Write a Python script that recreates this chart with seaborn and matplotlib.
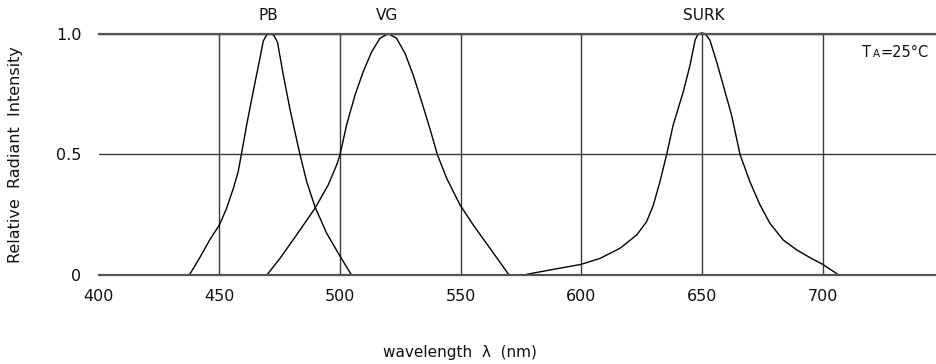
import numpy as np
import pandas as pd
import matplotlib
matplotlib.use("Agg")
import matplotlib.pyplot as plt
import seaborn as sns

# ---- data ----
pb_nm = [437.5, 442.0, 446.1, 450.0, 453.0, 455.8, 457.8, 459.2, 461.3, 464.0,
         466.8, 468.2, 469.6, 471.0, 472.6, 474.1, 476.5, 479.2, 481.3, 483.4,
         486.2, 489.6, 494.4, 499.7, 504.8]
pb_val = [0.0, 0.075, 0.148, 0.208, 0.277, 0.36, 0.429, 0.505, 0.622, 0.76,
          0.898, 0.97, 0.995, 1.0, 0.993, 0.964, 0.829, 0.69, 0.594, 0.5,
          0.387, 0.284, 0.175, 0.084, 0.0]

vg_nm = [469.6, 475.1, 482.0, 489.6, 495.1, 498.6, 500.0, 502.7, 506.2, 509.6,
         513.1, 516.5, 520.0, 523.4, 526.9, 530.3, 533.8, 537.2, 540.3, 544.2,
         549.7, 555.2, 562.1, 570.1]
vg_val = [0.0, 0.07, 0.167, 0.277, 0.374, 0.457, 0.5, 0.622, 0.746, 0.843,
          0.925, 0.981, 1.0, 0.981, 0.919, 0.829, 0.719, 0.608, 0.5, 0.401,
          0.291, 0.208, 0.112, 0.0]

surk_nm = [577.3, 587.0, 599.8, 607.7, 616.0, 622.9, 627.0, 629.8, 632.5, 635.3,
           638.0, 642.2, 645.0, 647.1, 648.4, 650.0, 651.2, 653.2, 656.0, 658.7,
           662.2, 665.7, 669.8, 674.0, 678.1, 683.6, 689.2, 694.7, 700.0, 706.8]
surk_val = [0.004, 0.022, 0.045, 0.07, 0.112, 0.167, 0.222, 0.291, 0.387, 0.5,
            0.622, 0.76, 0.87, 0.974, 1.0, 1.003, 1.0, 0.974, 0.884, 0.788,
            0.663, 0.5, 0.387, 0.291, 0.215, 0.146, 0.105, 0.073, 0.045, 0.0]

series_names = ["PB", "VG", "SURK"]
label_nm = [470.5, 519.5, 650.5]

x_ticks = [400, 450, 500, 550, 600, 650, 700]
x_tick_labels = ["400", "450", "500", "550", "600", "650", "700"]
y_ticks = [0, 0.5, 1.0]
y_tick_labels = ["0", "0.5", "1.0"]

df = pd.concat([
    pd.DataFrame({"nm": pb_nm, "val": pb_val, "series": "PB"}),
    pd.DataFrame({"nm": vg_nm, "val": vg_val, "series": "VG"}),
    pd.DataFrame({"nm": surk_nm, "val": surk_val, "series": "SURK"}),
])

sns.set_style("white")
plt.rcParams["font.family"] = ["DejaVu Sans"]

fig = plt.figure(figsize=(9.37, 3.64), dpi=100)
ax = fig.add_axes([0.1053, 0.2437, 0.8947, 0.6637])

gcol = "#3a3a3a"
tcol = "#111111"
for name in series_names:
    sub = df[df["series"] == name]
    sns.lineplot(data=sub, x="nm", y="val", ax=ax, color="black", lw=1.0,
                 sort=False, estimator=None, legend=False, clip_on=False)

ax.set_xlim(400, 747.3)
ax.set_ylim(0, 1.0)
ax.set_xticks(x_ticks)
ax.set_xticklabels(x_tick_labels)
ax.set_yticks(y_ticks)
ax.set_yticklabels(y_tick_labels)
ax.tick_params(axis="both", length=0, labelsize=11.5, colors=tcol)
ax.tick_params(axis="x", pad=10.0)
ax.tick_params(axis="y", pad=12.5)

ax.grid(True, color=gcol, lw=1.0)
ax.get_xgridlines()[0].set_visible(False)
for s in ["left", "right"]:
    ax.spines[s].set_visible(False)
for s in ["top", "bottom"]:
    ax.spines[s].set_visible(True)
    ax.spines[s].set_color("#555555")
    ax.spines[s].set_linewidth(1.6)

ax.set_xlabel("")
ax.set_ylabel("Relative  Radiant  Intensity", fontsize=11.5, color=tcol)
ax.yaxis.set_label_coords(-0.0905, 0.5)

for name, nm in zip(series_names, label_nm):
    ax.text(nm, 1.045, name, ha="center", va="bottom", fontsize=11,
            color=tcol, transform=ax.get_xaxis_transform())

# TA = 25°C annotation
ax.text(716.2, 0.905, "T", ha="left", va="baseline", fontsize=10.5, color=tcol)
ax.text(720.6, 0.905, "A", ha="left", va="baseline", fontsize=7.5, color=tcol)
ax.text(723.9, 0.905, "=25°C", ha="left", va="baseline", fontsize=10.5, color=tcol)

fig.text(460 / 937, 1 - 352 / 364, "wavelength  λ  (nm)", ha="center", va="center",
         fontsize=11, color=tcol)

fig.savefig("out.png", dpi=100)
